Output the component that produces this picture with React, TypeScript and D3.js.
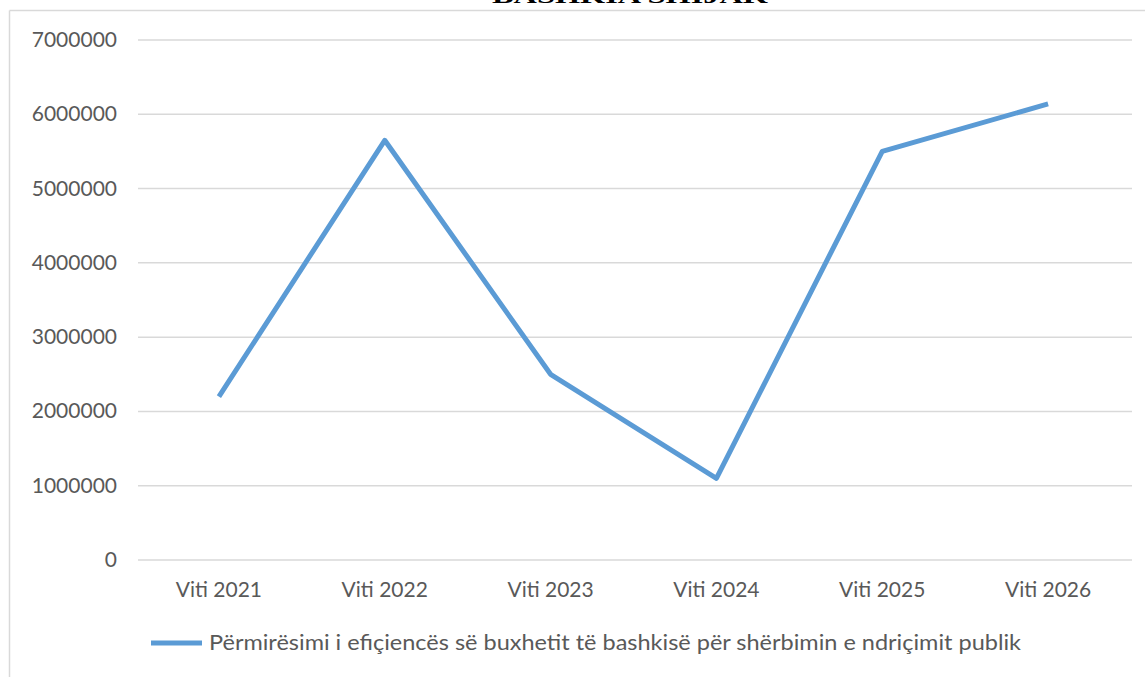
import React, { useEffect, useRef } from "react";
import * as d3 from "d3";

const categories = ["Viti 2021", "Viti 2022", "Viti 2023", "Viti 2024", "Viti 2025", "Viti 2026"];
const values = [2200000, 5650000, 2500000, 1100000, 5500000, 6140000];
const yTicks = [0, 1000000, 2000000, 3000000, 4000000, 5000000, 6000000, 7000000];
const seriesName = "Përmirësimi i efiçiencës së buxhetit të bashkisë për shërbimin e ndriçimit publik";
const title = "BASHKIA SHIJAK";

const W = 1145, H = 677;
const FONT = "Lato, 'Open Sans', sans-serif";

export default function App() {
  const ref = useRef<SVGSVGElement>(null);
  useEffect(() => {
    const svg = d3.select(ref.current);
    svg.selectAll("*").remove();
    const left = 136, right = 1131, top = 40, bottom = 560;
    const x = d3.scaleBand().domain(categories).range([left, right]);
    const y = d3.scaleLinear().domain([0, 7000000]).range([bottom, top]);

    svg.append("rect").attr("x", 0).attr("y", 0).attr("width", W).attr("height", H).attr("fill", "#fff");
    svg.append("line").attr("x1", 9.5).attr("x2", W + 5).attr("y1", 10.5).attr("y2", 10.5).attr("stroke", "#d9d9d9").attr("stroke-width", 1.5);
    svg.append("line").attr("x1", 9.5).attr("x2", 9.5).attr("y1", 10.5).attr("y2", H + 5).attr("stroke", "#d9d9d9").attr("stroke-width", 1.5);

    svg.append("text").attr("x", 630).attr("y", 3).attr("text-anchor", "middle")
      .attr("font-family", "'Liberation Serif', 'Times New Roman', serif").attr("font-weight", "bold")
      .attr("font-size", 22).attr("textLength", 276).attr("lengthAdjust", "spacingAndGlyphs")
      .attr("fill", "#000").text(title);

    const g = svg.append("g");
    g.selectAll("line.grid").data(yTicks).enter().append("line")
      .attr("x1", left + 2).attr("x2", right + 1)
      .attr("y1", d => y(d)).attr("y2", d => y(d))
      .attr("stroke", "#d9d9d9").attr("stroke-width", 1.5);

    g.selectAll("text.yl").data(yTicks).enter().append("text")
      .attr("x", 117).attr("y", d => y(d) + 7).attr("text-anchor", "end")
      .attr("font-family", FONT).attr("font-size", 21).attr("fill", "#595959")
      .text(d => String(d));

    g.selectAll("text.xl").data(categories).enter().append("text")
      .attr("x", d => (x(d) as number) + x.bandwidth() / 2).attr("y", 597).attr("text-anchor", "middle")
      .attr("font-family", FONT).attr("font-size", 21).attr("fill", "#595959")
      .text(d => d);

    const line = d3.line<number>()
      .x((_, i) => (x(categories[i]) as number) + x.bandwidth() / 2)
      .y(d => y(d));
    g.append("path").attr("d", line(values) as string).attr("fill", "none")
      .attr("stroke", "#5b9bd5").attr("stroke-width", 5).attr("stroke-linejoin", "round").attr("stroke-linecap", "butt");

    g.append("line").attr("x1", 151).attr("x2", 202).attr("y1", 643).attr("y2", 643)
      .attr("stroke", "#5b9bd5").attr("stroke-width", 5);
    g.append("text").attr("x", 209).attr("y", 650).attr("font-family", FONT).attr("font-size", 21)
      .attr("textLength", 812).attr("lengthAdjust", "spacingAndGlyphs")
      .attr("fill", "#595959").text(seriesName);
  }, []);
  return (
    <svg ref={ref} width={W} height={H} style={{ position: "absolute", left: 0, top: 0, display: "block" }} />
  );
}
